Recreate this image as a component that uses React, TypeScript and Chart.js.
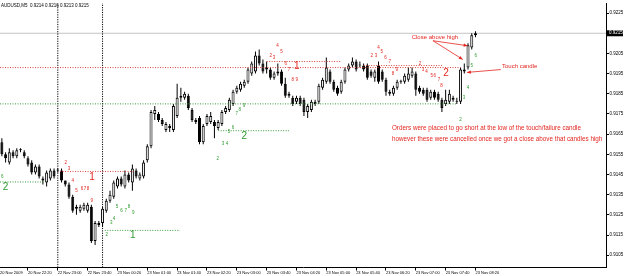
import React, { useEffect, useRef } from 'react';
import { Chart, registerables } from 'chart.js';

Chart.register(...registerables);

const FONT = '"Liberation Sans", Arial, sans-serif';

// candle index 0 = 20 Nov 22:20 (M5 bars), first visible bar index -7
const firstBar = -7;
const opens = [
  0.9161, 0.9155, 0.9151, 0.9156, 0.9154, 0.9157, 0.9156,
  0.9153, 0.9151, 0.9146, 0.9149, 0.9143, 0.9141, 0.9143, 0.9147, 0.9147, 0.9147, 0.9142, 0.9140, 0.9134, 0.9128, 0.9127, 0.9128, 0.9127,
  0.9129, 0.9112, 0.9120, 0.9121, 0.9127, 0.9132, 0.9134, 0.9139, 0.9143, 0.9139, 0.9145, 0.9141, 0.9147, 0.9143, 0.9144, 0.9152,
  0.9159, 0.9175, 0.9175, 0.9172, 0.9167, 0.9169, 0.9167, 0.9174, 0.9184, 0.9183, 0.9184, 0.9177, 0.9172, 0.9173, 0.9161, 0.9170,
  0.9171, 0.9171, 0.9168, 0.9170, 0.9176, 0.9177, 0.9180, 0.9186, 0.9187, 0.9189, 0.9191, 0.9195, 0.9196, 0.9204, 0.9200, 0.9198,
  0.9197, 0.9193, 0.9196, 0.9196, 0.9190, 0.9184, 0.9183, 0.9181, 0.9183, 0.9182, 0.9176, 0.9177, 0.9181, 0.9181, 0.9188, 0.9191,
  0.9196, 0.9191, 0.9188, 0.9186, 0.9191, 0.9197, 0.9199, 0.9201, 0.9199, 0.9199, 0.9199, 0.9196, 0.9193, 0.9199, 0.9196, 0.9192,
  0.9186, 0.9185, 0.9188, 0.9191, 0.9191, 0.9192, 0.9194, 0.9195, 0.9188, 0.9187, 0.9187, 0.9183, 0.9186, 0.9185, 0.9182, 0.9180,
  0.9181, 0.9182, 0.9181, 0.9181, 0.9197, 0.9198, 0.9208, 0.9214,
];
const highs = [
  0.9163, 0.9156, 0.9158, 0.9157, 0.9158, 0.9158, 0.9157,
  0.9154, 0.9152, 0.9150, 0.9150, 0.9144, 0.9147, 0.9148, 0.9148, 0.9148, 0.9148, 0.9142, 0.9141, 0.9135, 0.9130, 0.9130, 0.9131, 0.9131,
  0.9130, 0.9122, 0.9122, 0.9129, 0.9133, 0.9137, 0.9142, 0.9144, 0.9144, 0.9147, 0.9146, 0.9150, 0.9148, 0.9146, 0.9152, 0.9160,
  0.9177, 0.9179, 0.9176, 0.9173, 0.9171, 0.9170, 0.9180, 0.9190, 0.9188, 0.9186, 0.9185, 0.9178, 0.9173, 0.9174, 0.9170, 0.9175,
  0.9176, 0.9172, 0.9172, 0.9177, 0.9179, 0.9183, 0.9187, 0.9189, 0.9191, 0.9192, 0.9198, 0.9201, 0.9206, 0.9207, 0.9202, 0.9201,
  0.9198, 0.9196, 0.9200, 0.9197, 0.9193, 0.9186, 0.9184, 0.9184, 0.9184, 0.9183, 0.9180, 0.9182, 0.9182, 0.9190, 0.9193, 0.9203,
  0.9197, 0.9192, 0.9189, 0.9192, 0.9198, 0.9200, 0.9203, 0.9202, 0.9201, 0.9200, 0.9200, 0.9197, 0.9197, 0.9201, 0.9197, 0.9193,
  0.9187, 0.9189, 0.9192, 0.9192, 0.9195, 0.9198, 0.9198, 0.9196, 0.9189, 0.9188, 0.9188, 0.9187, 0.9187, 0.9186, 0.9183, 0.9187,
  0.9187, 0.9184, 0.9183, 0.9198, 0.9200, 0.9210, 0.9215, 0.9216,
];
const lows = [
  0.9154, 0.9151, 0.9150, 0.9153, 0.9153, 0.9156, 0.9153,
  0.9149, 0.9145, 0.9145, 0.9143, 0.9140, 0.9139, 0.9142, 0.9143, 0.9146, 0.9141, 0.9139, 0.9133, 0.9126, 0.9125, 0.9126, 0.9127, 0.9126,
  0.9111, 0.9110, 0.9119, 0.9119, 0.9126, 0.9131, 0.9133, 0.9138, 0.9139, 0.9138, 0.9141, 0.9137, 0.9143, 0.9142, 0.9143, 0.9151,
  0.9158, 0.9172, 0.9171, 0.9169, 0.9166, 0.9166, 0.9166, 0.9173, 0.9181, 0.9182, 0.9177, 0.9171, 0.9170, 0.9160, 0.9160, 0.9169,
  0.9170, 0.9163, 0.9167, 0.9169, 0.9175, 0.9176, 0.9179, 0.9185, 0.9186, 0.9188, 0.9190, 0.9194, 0.9195, 0.9199, 0.9195, 0.9195,
  0.9192, 0.9192, 0.9194, 0.9189, 0.9183, 0.9183, 0.9179, 0.9180, 0.9179, 0.9174, 0.9173, 0.9176, 0.9179, 0.9180, 0.9187, 0.9190,
  0.9190, 0.9186, 0.9184, 0.9185, 0.9190, 0.9196, 0.9198, 0.9196, 0.9198, 0.9196, 0.9192, 0.9193, 0.9191, 0.9190, 0.9191, 0.9184,
  0.9184, 0.9184, 0.9187, 0.9190, 0.9190, 0.9191, 0.9193, 0.9184, 0.9185, 0.9184, 0.9181, 0.9182, 0.9182, 0.9181, 0.9176, 0.9179,
  0.9180, 0.9181, 0.9180, 0.9180, 0.9195, 0.9197, 0.9207, 0.9213,
];
const closes = [
  0.9155, 0.9153, 0.9156, 0.9154, 0.9157, 0.9157, 0.9154,
  0.9150, 0.9146, 0.9149, 0.9144, 0.9142, 0.9146, 0.9147, 0.9144, 0.9147, 0.9142, 0.9140, 0.9134, 0.9127, 0.9129, 0.9129, 0.9130, 0.9130,
  0.9112, 0.9121, 0.9121, 0.9128, 0.9132, 0.9135, 0.9141, 0.9143, 0.9140, 0.9145, 0.9142, 0.9148, 0.9144, 0.9145, 0.9151, 0.9159,
  0.9176, 0.9177, 0.9172, 0.9170, 0.9170, 0.9168, 0.9179, 0.9183, 0.9183, 0.9185, 0.9178, 0.9172, 0.9171, 0.9161, 0.9169, 0.9174,
  0.9174, 0.9169, 0.9171, 0.9176, 0.9178, 0.9182, 0.9186, 0.9188, 0.9190, 0.9191, 0.9197, 0.9200, 0.9204, 0.9200, 0.9196, 0.9197,
  0.9193, 0.9195, 0.9195, 0.9190, 0.9184, 0.9185, 0.9180, 0.9183, 0.9180, 0.9176, 0.9179, 0.9181, 0.9180, 0.9189, 0.9192, 0.9198,
  0.9191, 0.9187, 0.9185, 0.9191, 0.9197, 0.9199, 0.9201, 0.9197, 0.9199, 0.9197, 0.9193, 0.9194, 0.9196, 0.9191, 0.9192, 0.9186,
  0.9185, 0.9188, 0.9191, 0.9191, 0.9194, 0.9195, 0.9196, 0.9187, 0.9186, 0.9185, 0.9182, 0.9186, 0.9183, 0.9182, 0.9178, 0.9182,
  0.9185, 0.9183, 0.9181, 0.9197, 0.9196, 0.9209, 0.9214, 0.9215,
];

const titleText = 'AUDUSD,M5  0.9214 0.9216 0.9213 0.9215';
const bidPrice = 0.9215;

const xTickIndexes = [-7.5, 0, 8, 16, 24, 32, 40, 48, 56, 64, 72, 80, 88, 96, 104, 112, 120];
const xTickLabels = [
  '20 Nov 2009', '20 Nov 22:20', '22 Nov 23:00', '22 Nov 23:40', '23 Nov 00:20', '23 Nov 01:00',
  '23 Nov 01:40', '23 Nov 02:20', '23 Nov 03:00', '23 Nov 03:40', '23 Nov 04:20', '23 Nov 05:00',
  '23 Nov 05:40', '23 Nov 06:20', '23 Nov 07:00', '23 Nov 07:40', '23 Nov 08:20',
];
const yTickValues = [0.9105, 0.9115, 0.9125, 0.9135, 0.9145, 0.9155, 0.9165, 0.9175, 0.9185, 0.9195, 0.9205, 0.9215, 0.9225];

// period separators (bar index)
const separators = [8, 20];

// dotted levels: [price, fromBar, toBar]
const redLevels = [
  [0.9198, -7.5, 116],
  [0.9201, 64, 84],
  [0.9199, 90, 111],
  [0.91465, 8.6, 28.7],
];
const greenLevels = [
  [0.91413, -7.5, 4.6],
  [0.91173, 20.6, 40.8],
  [0.9180, -7.5, 115],
  [0.91667, 51, 70],
];

// small count labels: [text, bar, price]
const redCounts: [string, number, number][] = [
  ['2', 10.1, 0.9151], ['3', 11, 0.9148], ['4', 12, 0.9142], ['5', 13, 0.9137], ['6', 14.5, 0.9138], ['7', 15.3, 0.9138], ['8', 16.1, 0.9138], ['9', 17.1, 0.9132],
  ['2', 65.1, 0.9204], ['3', 66, 0.9203], ['4', 66.9, 0.9209], ['5', 68, 0.9206], ['6', 69.1, 0.9200], ['7', 70, 0.9197], ['8', 71, 0.9192], ['9', 72.1, 0.9192],
  ['2', 92.2, 0.9204], ['3', 93.3, 0.9204], ['4', 94, 0.9208], ['5', 94.9, 0.9206], ['6', 95.9, 0.9203], ['7', 97, 0.9201], ['8', 97.9, 0.9195], ['9', 98.9, 0.9197],
  ['2', 105.1, 0.9200], ['3', 105.9, 0.9197], ['4', 106.9, 0.9196], ['5', 108.3, 0.9194], ['6', 109.1, 0.9194], ['7', 110.2, 0.9192], ['8', 110.9, 0.9189],
];
const greenCounts: [string, number, number][] = [
  ['6', -6.9, 0.9144],
  ['2', 21.1, 0.9115], ['3', 22.3, 0.9121], ['4', 23.1, 0.9123], ['5', 23.9, 0.9129], ['6', 25.1, 0.9127], ['7', 26.2, 0.9127], ['8', 27.1, 0.9129], ['9', 28.2, 0.9126],
  ['2', 50.9, 0.9153], ['3', 52.3, 0.9160], ['4', 53.4, 0.9160], ['5', 53.9, 0.9166], ['6', 55, 0.9168], ['7', 56, 0.9175], ['8', 56.8, 0.9177], ['9', 57.9, 0.9179],
  ['2', 116, 0.9172], ['3', 116.9, 0.9183], ['4', 118, 0.9188], ['5', 119, 0.9199], ['6', 120.1, 0.9204],
];
const redBig: [string, number, number][] = [['1', 17.2, 0.91437], ['1', 72.1, 0.91985], ['2', 112.1, 0.9195]];
const greenBig: [string, number, number][] = [['2', -6, 0.91388], ['1', 28.1, 0.9115], ['2', 58, 0.9164]];

// notes: [text, bar (left edge), price, font size]
const notes: [string, number, number, number][] = [
  ['Close above high', 102.9, 0.92128, 6],
  ['Touch candle', 127.1, 0.91986, 6],
  ['Orders were placed to go short at the low of the touch/failure candle', 97.6, 0.91677, 6.3],
  ['however these were cancelled once we got a close above that candles high', 97.6, 0.91623, 6.3],
];
// arrows: [fromBar, fromPrice, toBar, toPrice]
const arrows = [
  [108.6, 0.92113, 117.9, 0.92088],
  [108.6, 0.92113, 116.6, 0.9202],
  [126.8, 0.9197, 117.7, 0.91956],
];

const RED = '#e3261f';
const GREEN = '#2f9a2f';

const overlayPlugin = {
  id: 'mtOverlay',
  afterDatasetsDraw(chart: any) {
    const { ctx, chartArea } = chart;
    const xs = chart.scales.x;
    const ys = chart.scales.y;
    const px = (v: number) => xs.getPixelForValue(v);
    const py = (v: number) => ys.getPixelForValue(v);
    ctx.save();
    ctx.textBaseline = 'middle';
    // title
    ctx.fillStyle = '#000';
    ctx.textAlign = 'left';
    ctx.font = `4.5px ${FONT}`;
    ctx.fillText(titleText, chartArea.left + 1, chartArea.top + 3);
    // count labels
    ctx.textAlign = 'center';
    ctx.font = `4.5px ${FONT}`;
    ctx.fillStyle = RED;
    redCounts.forEach(([t, b, p]) => ctx.fillText(t, px(b), py(p)));
    ctx.fillStyle = GREEN;
    greenCounts.forEach(([t, b, p]) => ctx.fillText(t, px(b), py(p)));
    ctx.font = `10px ${FONT}`;
    ctx.fillStyle = RED;
    redBig.forEach(([t, b, p]) => ctx.fillText(t, px(b), py(p)));
    ctx.fillStyle = GREEN;
    greenBig.forEach(([t, b, p]) => ctx.fillText(t, px(b), py(p)));
    // notes
    ctx.textAlign = 'left';
    ctx.fillStyle = RED;
    notes.forEach(([t, b, p, s]) => {
      ctx.font = `${s}px ${FONT}`;
      ctx.fillText(t, px(b), py(p));
    });
    // arrows
    ctx.strokeStyle = RED;
    ctx.lineWidth = 0.8;
    arrows.forEach(([b1, p1, b2, p2]) => {
      const x1 = px(b1), y1 = py(p1), x2 = px(b2), y2 = py(p2);
      ctx.beginPath();
      ctx.moveTo(x1, y1);
      ctx.lineTo(x2, y2);
      ctx.stroke();
      const a = Math.atan2(y2 - y1, x2 - x1);
      const L = 4, W = 1.6;
      ctx.beginPath();
      ctx.moveTo(x2, y2);
      ctx.lineTo(x2 - L * Math.cos(a) + W * Math.sin(a), y2 - L * Math.sin(a) - W * Math.cos(a));
      ctx.lineTo(x2 - L * Math.cos(a) - W * Math.sin(a), y2 - L * Math.sin(a) + W * Math.cos(a));
      ctx.closePath();
      ctx.fillStyle = RED;
      ctx.fill();
    });
    ctx.restore();
  },
  afterDraw(chart: any) {
    const { ctx, chartArea } = chart;
    const ys = chart.scales.y;
    const y = ys.getPixelForValue(bidPrice);
    ctx.save();
    ctx.fillStyle = '#000';
    ctx.fillRect(chartArea.right, y - 3, 17, 6);
    ctx.fillStyle = '#fff';
    ctx.font = `4.5px ${FONT}`;
    ctx.textAlign = 'left';
    ctx.textBaseline = 'middle';
    ctx.fillText(bidPrice.toFixed(4), chartArea.right + 3, y);
    ctx.restore();
  },
};

export default function App() {
  const ref = useRef<HTMLCanvasElement>(null);
  useEffect(() => {
    document.body.style.margin = '0';
    const canvas = ref.current;
    if (!canvas) return;
    const wickData = opens.map((o, i) => ({ x: firstBar + i, y: [lows[i], highs[i]] }));
    const bodyData = opens.map((o, i) => ({ x: firstBar + i, y: [o, closes[i]] }));
    const bodyColors = opens.map((o, i) => (closes[i] > o ? '#ffffff' : '#000000'));
    const yMin = 0.90989;
    const yMax = 0.92299;
    const lineDs = (pts: { x: number; y: number }[], color: string, dash: number[], order: number) => ({
      type: 'line' as const,
      data: pts,
      borderColor: color,
      borderWidth: 1,
      borderDash: dash,
      pointRadius: 0,
      fill: false,
      tension: 0,
      order,
    });
    const datasets: any[] = [
      lineDs([{ x: -7.5, y: bidPrice }, { x: 155, y: bidPrice }], '#c4c4c4', [], 5),
      ...separators.map((b) => lineDs([{ x: b, y: yMin }, { x: b, y: yMax }], '#000', [1.2, 1.2], 4)),
      {
        type: 'bar',
        data: wickData,
        backgroundColor: '#000',
        borderWidth: 0,
        barThickness: 1,
        grouped: false,
        inflateAmount: 0,
        order: 3,
      },
      {
        type: 'bar',
        data: bodyData,
        backgroundColor: bodyColors,
        borderColor: '#000',
        borderWidth: 1,
        borderSkipped: false,
        barThickness: 3,
        minBarLength: 1,
        grouped: false,
        inflateAmount: 0,
        order: 2,
      },
      ...redLevels.map(([p, a, b]) => lineDs([{ x: a, y: p }, { x: b, y: p }], '#d9453f', [1, 1.5], 1)),
      ...greenLevels.map(([p, a, b]) => lineDs([{ x: a, y: p }, { x: b, y: p }], '#3a9a3a', [1, 1.5], 1)),
    ];
    const chart = new Chart(canvas, {
      type: 'bar',
      data: { datasets },
      options: {
        responsive: false,
        animation: false,
        devicePixelRatio: 1,
        layout: { padding: 0 },
        plugins: { legend: { display: false }, tooltip: { enabled: false }, title: { display: false } },
        scales: {
          x: {
            type: 'linear',
            min: -7.5,
            max: 155,
            offset: false,
            afterBuildTicks: (scale: any) => {
              scale.ticks = xTickIndexes.map((v) => ({ value: v }));
            },
            afterFit: (scale: any) => {
              scale.height = 8.5;
            },
            ticks: {
              autoSkip: false,
              maxRotation: 0,
              minRotation: 0,
              align: 'start',
              padding: 0,
              color: '#000',
              font: { size: 4, family: FONT },
              callback: (_v: any, i: number) => xTickLabels[i],
            },
            grid: {
              offset: false,
              drawOnChartArea: false,
              drawTicks: true,
              tickLength: 3,
              color: (c: any) => (c.index === 0 ? 'rgba(0,0,0,0)' : '#000'),
            },
            border: { display: true, color: '#000', width: 1 },
          },
          y: {
            type: 'linear',
            position: 'right',
            min: yMin,
            max: yMax,
            afterBuildTicks: (scale: any) => {
              scale.ticks = yTickValues.map((v) => ({ value: v }));
            },
            afterFit: (scale: any) => {
              scale.width = 19;
            },
            ticks: {
              padding: 0.5,
              color: '#000',
              font: { size: 4.5, family: FONT },
              callback: (v: any) => (Math.abs(v - bidPrice) < 1e-7 ? '' : Number(v).toFixed(4)),
            },
            grid: { drawOnChartArea: false, drawTicks: true, tickLength: 3, color: '#000' },
            border: { display: true, color: '#000', width: 1 },
          },
        },
      } as any,
      plugins: [overlayPlugin],
    });
    return () => chart.destroy();
  }, []);
  return <canvas ref={ref} width={625} height={276} style={{ display: 'block', width: '625px', height: '276px' }} />;
}
